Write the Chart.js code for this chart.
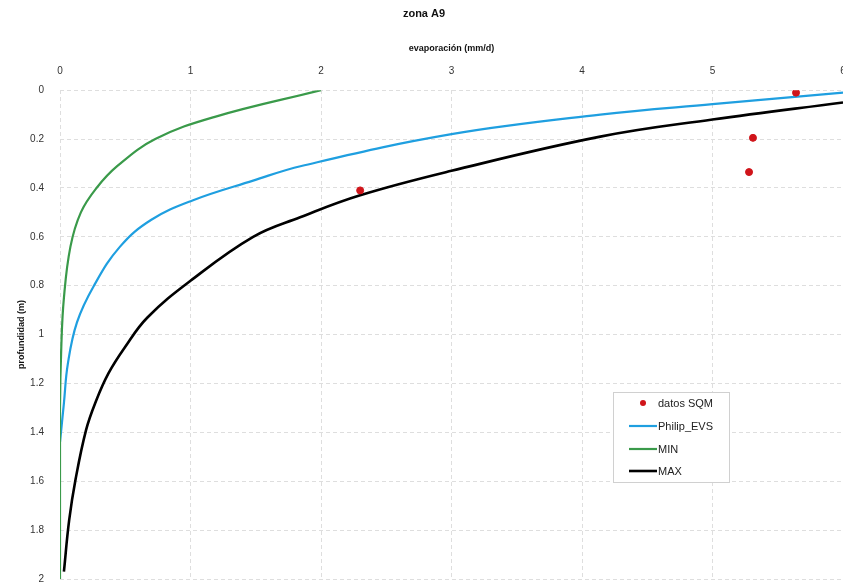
<!DOCTYPE html>
<html>
<head>
<meta charset="utf-8">
<script src="https://cdn.jsdelivr.net/npm/chart.js@4.4.0/dist/chart.umd.min.js"></script>
<style>
  html, body { margin: 0; padding: 0; background: #fff; overflow: hidden; }
  #wrap { width: 843px; height: 584px; overflow: hidden; }
</style>
</head>
<body>
<div id="wrap"><canvas id="myChart" width="848" height="584"></canvas></div>
<script>
// datos SQM (puntos medidos)
var sqmX = [5.64, 5.31, 5.28, 2.30]
var sqmY = [0.01, 0.195, 0.335, 0.41]

// Philip_EVS
var philipX = [6.0, 5.0, 4.14, 3.0, 1.85, 1.48, 1.02, 0.70, 0.46, 0.26, 0.13, 0.06, 0.03, 0.0]
var philipY = [0.01, 0.057, 0.10, 0.18, 0.31, 0.37, 0.45, 0.53, 0.64, 0.80, 0.95, 1.12, 1.28, 1.44]

// MIN
var minX = [2.0, 1.18, 0.73, 0.44, 0.28, 0.16, 0.08, 0.03, 0.01, 0.0, 0.0]
var minY = [0.0, 0.11, 0.20, 0.31, 0.40, 0.50, 0.64, 0.85, 1.05, 1.30, 2.00]

// MAX
var maxX = [6.0, 5.0, 4.14, 3.0, 2.30, 1.84, 1.48, 1.0, 0.67, 0.50, 0.37, 0.27, 0.20, 0.12, 0.07, 0.03]
var maxY = [0.05, 0.12, 0.19, 0.33, 0.43, 0.52, 0.60, 0.78, 0.93, 1.05, 1.16, 1.28, 1.39, 1.59, 1.76, 1.97]

function pts(xs, ys) {
    var out = []
    for (var i = 0; i < xs.length; i++) out.push({x: xs[i], y: ys[i]})
    return out
}

var legendBox = {
    id: 'legendBox',
    afterDraw: function(chart) {
        var c = chart.ctx
        var bx = 613, by = 392, bw = 116, bh = 90
        c.save()
        c.fillStyle = '#fff'
        c.fillRect(bx, by, bw, bh)
        c.strokeStyle = '#d0d0d0'
        c.lineWidth = 1
        c.strokeRect(bx + 0.5, by + 0.5, bw, bh)
        c.font = '11px "Liberation Sans", Arial, sans-serif'
        c.textBaseline = 'middle'
        var rows = [403, 426, 449, 471]
        chart.data.datasets.forEach(function(ds, i) {
            var yy = rows[i]
            if (ds.showLine) {
                c.strokeStyle = ds.borderColor
                c.lineWidth = ds.borderWidth
                c.beginPath()
                c.moveTo(629, yy)
                c.lineTo(657, yy)
                c.stroke()
            } else {
                c.fillStyle = ds.backgroundColor
                c.beginPath()
                c.arc(643, yy, 3, 0, Math.PI * 2)
                c.fill()
            }
            c.fillStyle = '#222'
            c.fillText(ds.label, 658, yy + 1)
        })
        c.restore()
    }
}

var fontFam = '"Liberation Sans", Arial, sans-serif'

var ctx = document.getElementById('myChart')
new Chart(ctx, {
    type: 'scatter',
    data: {
        datasets: [{
            label: 'datos SQM',
            data: pts(sqmX, sqmY),
            showLine: false,
            backgroundColor: '#d0141a',
            borderColor: '#d0141a',
            pointRadius: 3.5,
            order: 0
        }, {
            label: 'Philip_EVS',
            data: pts(philipX, philipY),
            showLine: true,
            borderColor: '#1f9fe0',
            borderWidth: 2.2,
            pointRadius: 0,
            tension: 0.4,
            order: 3
        }, {
            label: 'MIN',
            data: pts(minX, minY),
            showLine: true,
            borderColor: '#3a9a4a',
            borderWidth: 2.2,
            pointRadius: 0,
            tension: 0.4,
            order: 2
        }, {
            label: 'MAX',
            data: pts(maxX, maxY),
            showLine: true,
            borderColor: '#000000',
            borderWidth: 2.6,
            pointRadius: 0,
            tension: 0.4,
            order: 1
        }]
    },
    options: {
        responsive: false,
        animation: false,
        layout: { padding: { top: 0, right: 0, bottom: 5, left: 0 } },
        plugins: {
            legend: { display: false },
            tooltip: { enabled: false },
            title: {
                display: true,
                text: 'zona A9',
                color: '#111',
                font: { family: fontFam, size: 11, weight: 'bold' },
                padding: { top: 7, bottom: 8 }
            }
        },
        scales: {
            x: {
                type: 'linear',
                position: 'top',
                min: 0,
                max: 6,
                ticks: {
                    stepSize: 1,
                    color: '#333',
                    padding: 13,
                    font: { family: fontFam, size: 10 }
                },
                grid: { color: '#dedede', drawTicks: false },
                border: { display: false, dash: [4, 3] },
                title: {
                    display: true,
                    text: 'evaporación (mm/d)',
                    color: '#111',
                    font: { family: fontFam, size: 9, weight: 'bold' },
                    padding: { top: 15, bottom: 4 }
                },
                afterFit: function(scale) {
                    scale.height = 62
                    scale.paddingRight = 0
                    scale.paddingLeft = 0
                }
            },
            y: {
                type: 'linear',
                position: 'left',
                reverse: true,
                min: 0,
                max: 2,
                ticks: {
                    stepSize: 0.2,
                    color: '#333',
                    padding: 16,
                    font: { family: fontFam, size: 10 },
                    callback: function(v) { return String(Number(v.toFixed(1))) }
                },
                grid: { color: '#dedede', drawTicks: false },
                border: { display: false, dash: [4, 3] },
                title: {
                    display: true,
                    text: 'profundidad (m)',
                    color: '#111',
                    font: { family: fontFam, size: 9, weight: 'bold' },
                    padding: { top: 16, bottom: 0 }
                },
                afterFit: function(scale) {
                    scale.width = 60
                    scale.paddingTop = 0
                    scale.paddingBottom = 0
                }
            }
        }
    },
    plugins: [legendBox]
})
</script>
</body>
</html>
